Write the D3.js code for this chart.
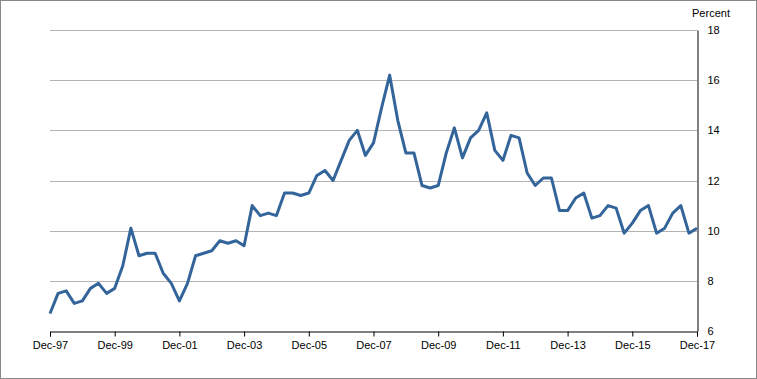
<!DOCTYPE html>
<meta charset="utf-8">
<script src="https://cdn.jsdelivr.net/npm/d3@7"></script>
<style>
  body { margin: 0; background: #fff; }
  text { font-family: "Liberation Sans", Arial, sans-serif; font-size: 11px; fill: #000; }
</style>
<body>
<script>

var width = 757
var height = 379

// quarterly values, Dec-97 .. Dec-17
var values = [
  6.7, 7.5, 7.6, 7.1, 7.2, 7.7, 7.9, 7.5,
  7.7, 8.6, 10.1, 9.0, 9.1, 9.1, 8.3, 7.9,
  7.2, 7.9, 9.0, 9.1, 9.2, 9.6, 9.5, 9.6,
  9.4, 11.0, 10.6, 10.7, 10.6, 11.5, 11.5, 11.4,
  11.5, 12.2, 12.4, 12.0, 12.8, 13.6, 14.0, 13.0,
  13.5, 14.9, 16.2, 14.4, 13.1, 13.1, 11.8, 11.7,
  11.8, 13.1, 14.1, 12.9, 13.7, 14.0, 14.7, 13.2,
  12.8, 13.8, 13.7, 12.3, 11.8, 12.1, 12.1, 10.8,
  10.8, 11.3, 11.5, 10.5, 10.6, 11.0, 10.9, 9.9,
  10.3, 10.8, 11.0, 9.9, 10.1, 10.7, 11.0, 9.9,
  10.1
]
var xTickIdx = [0, 8, 16, 24, 32, 40, 48, 56, 64, 72, 80]
var xTickLabels = ["Dec-97", "Dec-99", "Dec-01", "Dec-03", "Dec-05", "Dec-07",
                   "Dec-09", "Dec-11", "Dec-13", "Dec-15", "Dec-17"]
var yTicks = [6, 8, 10, 12, 14, 16, 18]
var yLabel = "Percent"

var x = d3.scaleLinear().domain([0, values.length - 1]).range([50, 697])
var y = d3.scaleLinear().domain([6, 18]).range([331, 30])

var svg = d3.select("body").append("svg")
            .attr("width", width)
            .attr("height", height)

svg.append("rect")
   .attr("x", 0.5).attr("y", 0.5)
   .attr("width", width - 1).attr("height", height - 1)
   .attr("fill", "#fff").attr("stroke", "#888")

// gridlines
svg.append("g").selectAll("line")
   .data(yTicks.filter(d => d > 6))
   .enter().append("line")
   .attr("x1", x(0)).attr("x2", x(values.length - 1))
   .attr("y1", d => Math.round(y(d)) + 0.5).attr("y2", d => Math.round(y(d)) + 0.5)
   .attr("stroke", "#b3b3b3").attr("stroke-width", 1)

// x axis
var xAxis = svg.append("g")
   .attr("transform", "translate(0," + (Math.round(y(6)) + 0.5) + ")")
   .call(d3.axisBottom(x).tickValues(xTickIdx).tickSize(5).tickPadding(5)
           .tickFormat((d, i) => xTickLabels[i]))
xAxis.select(".domain").attr("stroke", "#000")
xAxis.selectAll(".tick line").attr("stroke", "#000")
xAxis.selectAll("text").style("font-size", "11px")

// y axis on right
var yAxis = svg.append("g")
   .attr("transform", "translate(" + (Math.round(x(values.length - 1)) + 0.5) + ",0)")
   .call(d3.axisRight(y).tickValues(yTicks).tickSize(0).tickPadding(10))
yAxis.select(".domain").attr("stroke", "#000")
yAxis.selectAll("text").style("font-size", "11px")

svg.append("text")
   .attr("x", 711).attr("y", 17)
   .style("text-anchor", "middle")
   .text(yLabel)

var line = d3.line().x((d, i) => x(i)).y(d => y(d))
svg.append("path")
   .attr("d", line(values))
   .attr("fill", "none")
   .attr("stroke", "#33649a")
   .attr("stroke-width", 3)
   .attr("stroke-linejoin", "round")

</script>
</body>
